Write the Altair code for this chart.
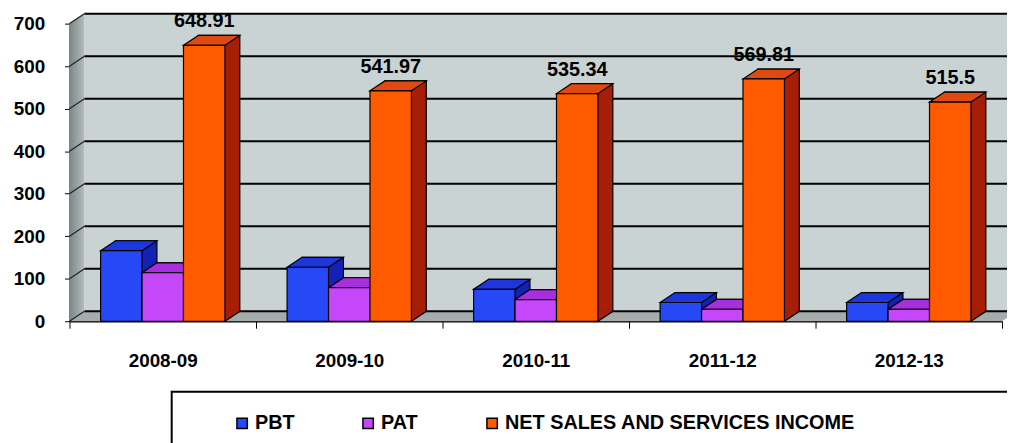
import altair as alt
import pandas as pd

# ---------------- data ----------------
years = ["2008-09", "2009-10", "2010-11", "2011-12", "2012-13"]
series = ["PBT", "PAT", "NET SALES AND SERVICES INCOME"]
pbt = [166, 127, 75, 44, 44]
pat = [114, 79, 51, 28, 28]
net = [648.91, 541.97, 535.34, 569.81, 515.5]
net_labels = ["648.91", "541.97", "535.34", "569.81", "515.5"]
y_ticks = [0, 100, 200, 300, 400, 500, 600, 700]

# ---------------- style ----------------
front_colors = ["#2748F6", "#C448FA", "#FF5A00"]
top_colors = ["#1D37DC", "#A830DC", "#DF4A12"]
side_colors = ["#1322B4", "#8420B2", "#A61E06"]
WALL = "#C9D3D3"
FLOOR = "#A4ACAC"
FONT = "Liberation Sans"

W, H = 940, 300
DX, DY = 15, 10
YMAX = 700
STEP = W / len(years)
P_OUT = 0.75
HW = STEP / (len(series) + 2 * P_OUT) / 2.0  # half bar width in px

rows = []
for i, yr in enumerate(years):
    for j, (s, vals) in enumerate(zip(series, [pbt, pat, net])):
        rows.append(dict(year=yr, series=s, value=vals[i],
                         top=top_colors[j], side=side_colors[j],
                         label=net_labels[i] if j == 2 else ""))
df = pd.DataFrame(rows)
ticks_df = pd.DataFrame({"tick": y_ticks})
one = pd.DataFrame({"k": [0]})

yscale = alt.Scale(domain=[0, YMAX], nice=False, zero=True)
x_enc = alt.X("year:N", sort=years, title=None,
              scale=alt.Scale(paddingInner=0, paddingOuter=0))
xo_enc = alt.XOffset("series:N", sort=series,
                     scale=alt.Scale(type="band", domain=series,
                                     paddingInner=0, paddingOuter=P_OUT))
# the depth (side) faces: same bands, pushed back-right by DX pixels
xo_side = alt.XOffset("series:N", sort=series,
                      scale=alt.Scale(type="band", domain=series,
                                      paddingInner=0, paddingOuter=P_OUT,
                                      range=[DX, STEP + DX]))
y_enc = alt.Y("value:Q", scale=yscale, title=None)

# ---------------- background (walls, floor, grid) ----------------
back_wall = alt.Chart(one).mark_rect(
    color=WALL, yOffset=-DY, y2Offset=-DY
).encode(x=alt.value(DX), x2=alt.value(W + DX),
         y=alt.datum(0, scale=yscale), y2=alt.datum(YMAX))

left_path = f"M0,0 L{DX},{-DY} L{DX},{-H - DY} L0,{-H} Z"
left_wall = alt.Chart(one).mark_point(
    shape=left_path, size=4, filled=True, opacity=1, strokeWidth=0,
    fill=alt.LinearGradient(gradient="linear",
                            stops=[alt.GradientStop(offset=0, color="#7D8686"),
                                   alt.GradientStop(offset=1, color="#B4BCBC")],
                            x1=0, x2=1, y1=0, y2=0)
).encode(x=alt.value(0), y=alt.datum(0))

floor_path = f"M0,0 L{W},0 L{W + DX},{-DY} L{DX},{-DY} Z"
floor = alt.Chart(one).mark_point(
    shape=floor_path, size=4, filled=True, opacity=1, fill=FLOOR, strokeWidth=0
).encode(x=alt.value(0), y=alt.datum(0))

grid_back = alt.Chart(ticks_df).mark_rule(
    color="black", strokeWidth=2, yOffset=-DY
).encode(x=alt.value(DX), x2=alt.value(W + DX),
         y=alt.Y("tick:Q", scale=yscale, title=None))

grid_left = alt.Chart(ticks_df).mark_rule(
    color="#222222", strokeWidth=1.2, y2Offset=-DY
).encode(x=alt.value(0), x2=alt.value(DX),
         y=alt.Y("tick:Q", scale=yscale, title=None), y2="tick:Q")

# ---------------- 3D bars ----------------
side = alt.Chart(df).mark_bar(
    yOffset=-DY, y2Offset=-DY, stroke="black", strokeWidth=1.2
).encode(x=x_enc, xOffset=xo_side, y=y_enc,
         fill=alt.Fill("side:N", scale=None))

tri_path = (f"M{HW},0 L{HW},{-DY - 1} L{HW + DX + 1},{-DY - 1} "
            f"L{HW + DX + 1},{-DY} L{HW + DX},{-DY} Z")
side_bottom = alt.Chart(df).mark_point(
    shape=tri_path, size=4, filled=True, opacity=1, strokeWidth=0
).encode(x=x_enc, xOffset=xo_enc, y=alt.datum(0),
         fill=alt.Fill("side:N", scale=None))

diag_path = f"M{HW},0 L{HW + DX},{-DY} L{HW + DX},{-DY - 1.5}"
side_diag = alt.Chart(df).mark_point(
    shape=diag_path, size=4, filled=False, opacity=1,
    color="black", strokeWidth=1.2
).encode(x=x_enc, xOffset=xo_enc, y=alt.datum(0))

top_path = f"M{-HW},0 L{-HW + DX},{-DY} L{HW + DX},{-DY} L{HW},0 Z"
top = alt.Chart(df).mark_point(
    shape=top_path, size=4, filled=True, opacity=1,
    stroke="black", strokeWidth=1.2
).encode(x=x_enc, xOffset=xo_enc, y=y_enc,
         fill=alt.Fill("top:N", scale=None))

front = alt.Chart(df).mark_bar(
    stroke="black", strokeWidth=1.2
).encode(
    x=x_enc, xOffset=xo_enc, y=y_enc,
    color=alt.Color("series:N", sort=series,
                    scale=alt.Scale(domain=series, range=front_colors),
                    legend=alt.Legend(
                        title=None, orient="none", legendX=164, legendY=393,
                        direction="horizontal", symbolType="square",
                        symbolSize=110, symbolStrokeColor="black",
                        symbolStrokeWidth=1.5, labelFont=FONT,
                        labelFontSize=20, labelFontWeight="bold",
                        labelColor="black", columnPadding=64,
                        labelOffset=3, labelLimit=0, padding=0)),
)

labels = alt.Chart(df).transform_filter(
    alt.datum.label != ""
).mark_text(
    dy=-18, baseline="alphabetic", fontSize=20, fontWeight="bold",
    font=FONT, color="black"
).encode(x=x_enc, xOffset=xo_enc, y=y_enc, text="label:N")

legend_box = alt.Chart(one).mark_rect(
    fill="white", stroke="black", strokeWidth=2
).encode(x=alt.value(103), x2=alt.value(W + 40),
         y=alt.value(371), y2=alt.value(H + 200))

chart = alt.layer(
    legend_box, back_wall, left_wall, floor, grid_back, grid_left,
    side, side_bottom, side_diag, top, front, labels
).resolve_scale(
    xOffset="independent"
).properties(
    width=W, height=H,
    padding={"left": 62, "top": 14, "right": 5, "bottom": 121},
    autosize=alt.AutoSizeParams(type="none"),
).configure_view(
    stroke=None
).configure_axisX(
    labelAngle=0, tickBand="extent", domainColor="black", domainWidth=1.5,
    tickColor="black", tickSize=7, labelFont=FONT, labelFontSize=19,
    labelFontWeight="bold", labelColor="black", labelPadding=24, grid=False
).configure_axisY(
    values=y_ticks, domainColor="black", domainWidth=1, tickColor="black",
    tickSize=5, labelFont=FONT, labelFontSize=19, labelFontWeight="bold",
    labelColor="black", labelPadding=20, grid=False
)

chart.save("out.html", embed_options={"renderer": "svg", "actions": False})
